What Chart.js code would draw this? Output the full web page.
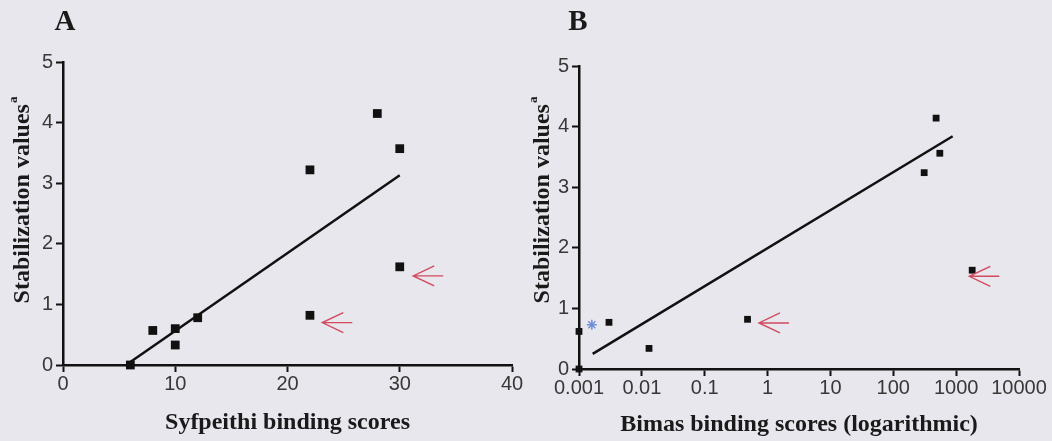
<!DOCTYPE html>
<html>
<head>
<meta charset="utf-8">
<script src="https://cdn.jsdelivr.net/npm/chart.js@4/dist/chart.umd.min.js"></script>
<style>
    html, body { margin: 0; padding: 0; background: #e7e7ed; }
    #wrap { position: relative; width: 1052px; height: 441px; overflow: hidden; }
    canvas { position: absolute; top: 0; }
    #chartA { left: 0; }
    #chartB { left: 526px; }
</style>
</head>
<body>
<div id="wrap">
    <canvas id="chartA" width="526" height="441"></canvas>
    <canvas id="chartB" width="526" height="441"></canvas>
</div>
<script>
// Painel A - Syfpeithi
const syfX = [6, 8, 10, 10, 12, 22, 22, 28, 30, 30];
const stabA = [0, 0.57, 0.6, 0.33, 0.78, 3.22, 0.82, 4.15, 3.57, 1.62];
const fitA = [{ x: 6, y: 0.05 }, { x: 30, y: 3.13 }];
const arrowsA = [{ x: 23.1, y: 0.70 }, { x: 31.2, y: 1.47 }];
const ticksA = [0, 10, 20, 30, 40];

// Painel B - Bimas (log)
const bimasX = [0.001, 0.001, 0.003, 0.013, 0.48, 310, 480, 550, 1800];
const stabB = [0, 0.62, 0.77, 0.34, 0.82, 3.24, 4.14, 3.56, 1.63];
const starB = [{ x: 0.0016, y: 0.73 }];
const fitB = [{ x: 0.00165, y: 0.25 }, { x: 880, y: 3.84 }];
const arrowsB = [{ x: 0.73, y: 0.76 }, { x: 1620, y: 1.53 }];
const logTicks = [0.001, 0.01, 0.1, 1, 10, 100, 1000, 10000];
const logTickLabels = ['0.001', '0.01', '0.1', '1', '10', '100', '1000', '10000'];

const yTicks = [0, 1, 2, 3, 4, 5];
const yTitle = 'Stabilization values';
const ySup = 'a';

const INK = '#111';
const ARROW = '#d24a5c';
const SERIF = '"Liberation Serif", "Times New Roman", serif';
const SANS = '"Liberation Sans", Arial, sans-serif';

// letra do painel, titulo do eixo y com sobrescrito e setas vermelhas
function makeDecor(letter, letterX, letterY, titleX, titleY, arrows) {
    return {
        id: 'decor' + letter,
        afterDraw(chart) {
            const ctx = chart.ctx;
            ctx.save();
            ctx.fillStyle = '#1a1a1a';
            ctx.font = 'bold 29px ' + SERIF;
            ctx.textAlign = 'center';
            ctx.textBaseline = 'middle';
            ctx.fillText(letter, letterX, letterY);

            ctx.translate(titleX, titleY);
            ctx.rotate(-Math.PI / 2);
            ctx.font = 'bold 24px ' + SERIF;
            const w1 = ctx.measureText(yTitle).width;
            ctx.font = 'bold 13px ' + SERIF;
            const w2 = ctx.measureText(ySup).width;
            const x0 = -(w1 + w2 + 1) / 2;
            ctx.textAlign = 'left';
            ctx.font = 'bold 24px ' + SERIF;
            ctx.fillText(yTitle, x0, 0);
            ctx.font = 'bold 13px ' + SERIF;
            ctx.fillText(ySup, x0 + w1 + 1, -9);
            ctx.restore();

            const xs = chart.scales.x;
            const ys = chart.scales.y;
            ctx.save();
            ctx.strokeStyle = ARROW;
            ctx.lineWidth = 1.4;
            arrows.forEach(a => {
                const px = xs.getPixelForValue(a.x);
                const py = ys.getPixelForValue(a.y);
                ctx.beginPath();
                ctx.moveTo(px + 30, py);
                ctx.lineTo(px, py);
                ctx.moveTo(px + 21, py - 10);
                ctx.lineTo(px, py);
                ctx.lineTo(px + 21, py + 10);
                ctx.stroke();
            });
            ctx.restore();
        }
    };
}

function axisGrid() {
    return {
        display: true,
        drawOnChartArea: false,
        drawTicks: true,
        tickLength: 7,
        tickWidth: 2,
        tickColor: INK
    };
}

function yScale(width) {
    return {
        min: 0,
        max: 5,
        afterBuildTicks: s => { s.ticks = yTicks.map(v => ({ value: v })); },
        afterFit: s => { s.width = width; },
        grid: axisGrid(),
        border: { display: true, color: INK, width: 2.5 },
        ticks: { color: '#383838', font: { family: SANS, size: 20 }, padding: 3 }
    };
}

document.addEventListener('DOMContentLoaded', function() {
    // Grafico A
    new Chart(document.getElementById('chartA'), {
        type: 'scatter',
        data: {
            datasets: [
                {
                    data: syfX.map((x, i) => ({ x: x, y: stabA[i] })),
                    pointStyle: 'rect',
                    pointRadius: 6.2,
                    backgroundColor: INK,
                    borderWidth: 0,
                    clip: false
                },
                {
                    type: 'line',
                    data: fitA,
                    borderColor: INK,
                    borderWidth: 2.5,
                    pointRadius: 0,
                    fill: false
                }
            ]
        },
        options: {
            responsive: false,
            animation: false,
            devicePixelRatio: 1,
            layout: { padding: { left: 0, right: 14, top: 62, bottom: 0 } },
            plugins: { legend: { display: false }, tooltip: { enabled: false } },
            scales: {
                x: {
                    type: 'linear',
                    min: 0,
                    max: 40,
                    afterBuildTicks: s => { s.ticks = ticksA.map(v => ({ value: v })); },
                    afterFit: s => { s.height = 76; },
                    grid: axisGrid(),
                    border: { display: true, color: INK, width: 2.5 },
                    ticks: { color: '#383838', font: { family: SANS, size: 20 }, padding: 0, maxRotation: 0 },
                    title: {
                        display: true,
                        text: 'Syfpeithi binding scores',
                        color: '#1a1a1a',
                        font: { family: SERIF, size: 24, weight: 'bold' },
                        padding: { top: 0, bottom: 4 }
                    }
                },
                y: yScale(63)
            }
        },
        plugins: [makeDecor('A', 65, 23, 23, 200, arrowsA)]
    });

    // Grafico B
    new Chart(document.getElementById('chartB'), {
        type: 'scatter',
        data: {
            datasets: [
                {
                    data: bimasX.map((x, i) => ({ x: x, y: stabB[i] })),
                    pointStyle: 'rect',
                    pointRadius: 4.8,
                    backgroundColor: INK,
                    borderWidth: 0,
                    clip: false
                },
                {
                    data: starB,
                    pointStyle: 'star',
                    pointRadius: 5,
                    borderColor: '#6f8fd6',
                    borderWidth: 1.5,
                    backgroundColor: 'transparent',
                    clip: false
                },
                {
                    type: 'line',
                    data: fitB,
                    borderColor: INK,
                    borderWidth: 2.5,
                    pointRadius: 0,
                    fill: false
                }
            ]
        },
        options: {
            responsive: false,
            animation: false,
            devicePixelRatio: 1,
            layout: { padding: { left: 0, right: 33, top: 66, bottom: 0 } },
            plugins: { legend: { display: false }, tooltip: { enabled: false } },
            scales: {
                x: {
                    type: 'logarithmic',
                    min: 0.001,
                    max: 10000,
                    afterBuildTicks: s => { s.ticks = logTicks.map(v => ({ value: v })); },
                    afterFit: s => { s.height = 72; },
                    grid: axisGrid(),
                    border: { display: true, color: INK, width: 2.5 },
                    ticks: {
                        color: '#383838',
                        font: { family: SANS, size: 20 },
                        padding: 0,
                        maxRotation: 0,
                        autoSkip: false,
                        callback: (v) => logTickLabels[logTicks.indexOf(v)]
                    },
                    title: {
                        display: true,
                        text: 'Bimas binding scores (logarithmic)',
                        color: '#1a1a1a',
                        font: { family: SERIF, size: 24, weight: 'bold' },
                        padding: { top: 0, bottom: 2 }
                    }
                },
                y: yScale(53)
            }
        },
        plugins: [makeDecor('B', 52, 23, 17, 200, arrowsB)]
    });
});
</script>
</body>
</html>
